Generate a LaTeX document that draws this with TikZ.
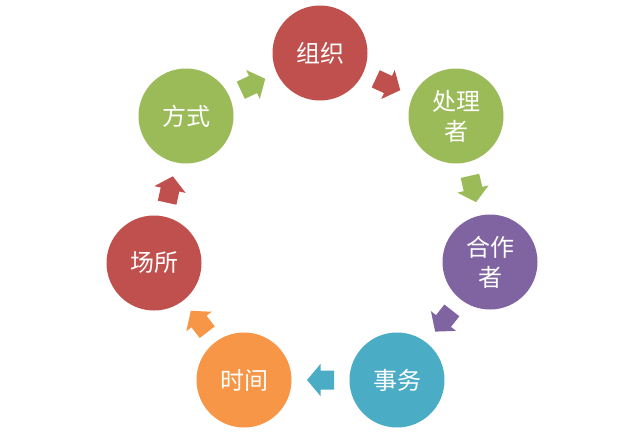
\documentclass[tikz,border=0pt]{standalone}
\usepackage{fontspec}
\newfontfamily\cjk{Noto Sans CJK SC}
\usetikzlibrary{calc}
\definecolor{cred}{HTML}{C0504D}
\definecolor{cgreen}{HTML}{9BBB59}
\definecolor{cpurple}{HTML}{8064A2}
\definecolor{cteal}{HTML}{4BACC6}
\definecolor{corange}{HTML}{F79646}
\tikzset{
  ball/.style={circle, minimum size=95pt, inner sep=0pt, fill=#1, text=white,
    font=\cjk\fontsize{24}{30}\selectfont, align=center},
}
\newcommand\cycarrow[3]{%
  \coordinate (m) at ($(#1)!0.5!(#2)$);
  \coordinate (c) at ($(m)!13.5pt!(#1)$);
  \fill[#3] ($(m)!13.5pt!(#2)$) -- ($(m)!16pt!90:(#2)$) -- ($(m)!9.5pt!90:(#2)$)
    -- ($(c)!9.5pt!-90:(#1)$) -- ($(c)!9.5pt!90:(#1)$) -- ($(m)!9.5pt!-90:(#2)$)
    -- ($(m)!16pt!-90:(#2)$) -- cycle;}
\begin{document}
\begin{tikzpicture}[x=1pt,y=-1pt]
\useasboundingbox[fill=white] (0,0) rectangle (642,432);
\node[ball=cred]    (zz) at (320,53)  {组织};
\node[ball=cgreen]  (cl) at (456,116) {处理\\者};
\node[ball=cpurple] (hz) at (490,262) {合作\\者};
\node[ball=cteal]   (sw) at (397,380) {事务};
\node[ball=corange] (sj) at (244,380) {时间};
\node[ball=cred]    (cs) at (154,263) {场所};
\node[ball=cgreen]  (fs) at (186,116) {方式};
\cycarrow{zz}{cl}{cred}
\cycarrow{cl}{hz}{cgreen}
\cycarrow{hz}{sw}{cpurple}
\cycarrow{sw}{sj}{cteal}
\cycarrow{sj}{cs}{corange}
\cycarrow{cs}{fs}{cred}
\cycarrow{fs}{zz}{cgreen}
\end{tikzpicture}
\end{document}
